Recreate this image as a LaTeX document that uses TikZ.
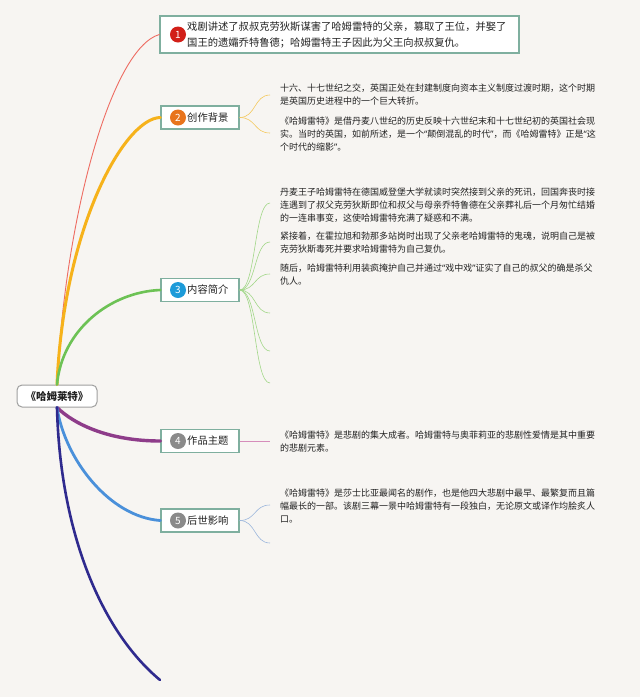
\documentclass[tikz,border=0pt]{standalone}
\usepackage{fontspec}
\newfontfamily\cjk{Noto Sans CJK SC}
\newfontfamily\latinq{Noto Sans}
\newcommand{\oq}{{\latinq “}}
\newcommand{\cq}{{\latinq ”}}
\definecolor{bg}{HTML}{F7F5F2}
\definecolor{boxline}{HTML}{7FAF9F}
\definecolor{cred}{HTML}{EE6C62}
\definecolor{corange}{HTML}{F6B21B}
\definecolor{cgreen}{HTML}{6DC255}
\definecolor{cpurple}{HTML}{8E3C8A}
\definecolor{cblue}{HTML}{4A90DA}
\definecolor{cnavy}{HTML}{2F2A8E}
\definecolor{num1}{HTML}{D21F18}
\definecolor{num2}{HTML}{E8741C}
\definecolor{num3}{HTML}{1D9BD9}
\definecolor{numg}{HTML}{8A8A8A}
\definecolor{lorange}{HTML}{F4C95E}
\definecolor{lgreen}{HTML}{A2D789}
\definecolor{lpink}{HTML}{D68DBB}
\definecolor{lblue}{HTML}{9BB6DC}
\definecolor{txt}{HTML}{222222}
\tikzset{
  lbox/.style={draw=boxline, line width=1.3pt, fill=white, minimum width=78pt, minimum height=23pt, inner sep=0pt},
  rootbox/.style={draw=gray!75, line width=1pt, fill=white, rounded corners=5pt, minimum width=80pt, minimum height=22pt, inner sep=0pt, font=\cjk\bfseries\fontsize{10.5}{12}\selectfont, text=txt},
  numc/.style={circle, minimum size=16pt, inner sep=0pt, text=white, font=\cjk\fontsize{10}{10}\selectfont},
  lbl/.style={anchor=west, inner sep=0pt, text=txt, font=\cjk\fontsize{10.3}{12}\selectfont},
  para/.style={anchor=north west, inner sep=0pt, align=left, text=txt, font=\cjk\fontsize{9}{13}\selectfont},
  mainline/.style={line cap=round},
  subline/.style={line width=0.6pt},
}
\begin{document}
\begin{tikzpicture}[x=1pt,y=-1pt]
\fill[bg] (0,0) rectangle (640,697);
\useasboundingbox (0,0) rectangle (640,697);

% root
\node[rootbox] (root) at (57,396) {《哈姆莱特》};

% main boxes
\node[lbox, minimum width=359pt, minimum height=37pt] (n1) at (339.5,34.5) {};
\node[numc, fill=num1] (n1c) at (178,34.5) {1};
\node[lbl, align=left, font=\cjk\fontsize{10.3}{16}\selectfont] (n1t) at (187,34.5) {戏剧讲述了叔叔克劳狄斯谋害了哈姆雷特的父亲，篡取了王位，并娶了\\国王的遗孀乔特鲁德；哈姆雷特王子因此为父王向叔叔复仇。};

\node[lbox] (n2) at (200,117.5) {};
\node[numc, fill=num2] (n2c) at (178,117.5) {2};
\node[lbl] (n2t) at (187,117.5) {创作背景};

\node[lbox] (n3) at (200,290) {};
\node[numc, fill=num3] (n3c) at (178,290) {3};
\node[lbl] (n3t) at (187,290) {内容简介};

\node[lbox] (n4) at (200,441) {};
\node[numc, fill=numg] (n4c) at (178,441) {4};
\node[lbl] (n4t) at (187,441) {作品主题};

\node[lbox] (n5) at (200,520.5) {};
\node[numc, fill=numg] (n5c) at (178,520.5) {5};
\node[lbl] (n5t) at (187,520.5) {后世影响};

% main connectors
\coordinate (nend) at (160,680);
\draw[mainline, cred, line width=0.9pt] (root.north) .. controls (65,215) and (112,48) .. (n1.west);
\draw[mainline, corange, line width=3pt] (root.north) .. controls (64,225) and (125,118) .. (n2.west);
\draw[mainline, cgreen, line width=2.6pt] (root.north) .. controls (62,330) and (110,292) .. (n3.west);
\draw[mainline, cpurple, line width=3.4pt] (root.south) .. controls (75,425) and (110,441) .. (n4.west);
\draw[mainline, cblue, line width=2.8pt] (root.south) .. controls (65,460) and (110,517) .. (n5.west);
\draw[mainline, cnavy, line width=2.6pt] (root.south) .. controls (60,530) and (100,630) .. (nend);

% node 2 details
\coordinate (b2a) at (270,95);
\coordinate (b2b) at (270,133);
\draw[subline, lorange] (n2.east) .. controls (256,117.5) and (254,95) .. (b2a);
\draw[subline, lorange] (n2.east) .. controls (256,117.5) and (254,133) .. (b2b);
\node[para] (p2a) at (280,84) {十六、十七世纪之交，英国正处在封建制度向资本主义制度过渡时期，这个时期\\是英国历史进程中的一个巨大转折。};
\node[para] (p2b) at (280,117) {《哈姆雷特》是借丹麦八世纪的历史反映十六世纪末和十七世纪初的英国社会现\\实。当时的英国，如前所述，是一个\oq 颠倒混乱的时代\cq ，而《哈姆雷特》正是\oq 这\\个时代的缩影\cq 。};

% node 3 details
\coordinate (b3a) at (270,203);
\coordinate (b3b) at (270,242);
\coordinate (b3c) at (270,274);
\coordinate (b3d) at (270,313);
\coordinate (b3e) at (270,351);
\coordinate (b3f) at (270,383);
\draw[subline, lgreen] (n3.east) .. controls (256,290) and (254,203) .. (b3a);
\draw[subline, lgreen] (n3.east) .. controls (256,290) and (254,242) .. (b3b);
\draw[subline, lgreen] (n3.east) .. controls (256,290) and (254,274) .. (b3c);
\draw[subline, lgreen] (n3.east) .. controls (256,290) and (254,313) .. (b3d);
\draw[subline, lgreen] (n3.east) .. controls (256,290) and (254,351) .. (b3e);
\draw[subline, lgreen] (n3.east) .. controls (256,290) and (254,383) .. (b3f);
\node[para] (p3a) at (280,188) {丹麦王子哈姆雷特在德国威登堡大学就读时突然接到父亲的死讯，回国奔丧时接\\连遇到了叔父克劳狄斯即位和叔父与母亲乔特鲁德在父亲葬礼后一个月匆忙结婚\\的一连串事变，这使哈姆雷特充满了疑惑和不满。};
\node[para] (p3b) at (280,232) {紧接着，在霍拉旭和勃那多站岗时出现了父亲老哈姆雷特的鬼魂，说明自己是被\\克劳狄斯毒死并要求哈姆雷特为自己复仇。};
\node[para] (p3c) at (280,264) {随后，哈姆雷特利用装疯掩护自己并通过\oq 戏中戏\cq 证实了自己的叔父的确是杀父\\仇人。};

% node 4 details
\coordinate (b4a) at (270,441);
\draw[subline, lpink] (n4.east) -- (b4a);
\node[para] (p4a) at (280,431) {《哈姆雷特》是悲剧的集大成者。哈姆雷特与奥菲莉亚的悲剧性爱情是其中重要\\的悲剧元素。};

% node 5 details
\coordinate (b5a) at (270,505);
\coordinate (b5b) at (270,543);
\draw[subline, lblue] (n5.east) .. controls (256,520.5) and (254,505) .. (b5a);
\draw[subline, lblue] (n5.east) .. controls (256,520.5) and (254,543) .. (b5b);
\node[para] (p5a) at (280,489) {《哈姆雷特》是莎士比亚最闻名的剧作，也是他四大悲剧中最早、最繁复而且篇\\幅最长的一部。该剧三幕一景中哈姆雷特有一段独白，无论原文或译作均脍炙人\\口。};
\end{tikzpicture}
\end{document}
